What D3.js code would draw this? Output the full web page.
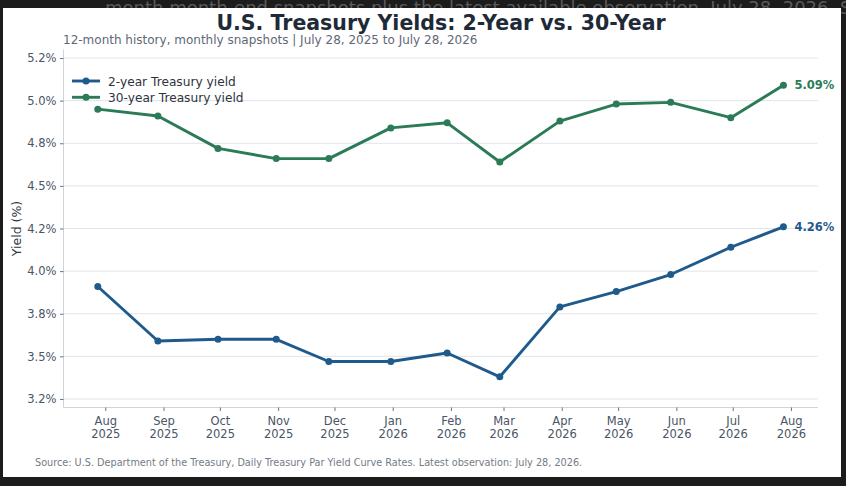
<!DOCTYPE html>
<html>
<head>
<meta charset="utf-8">
<script src="https://cdn.jsdelivr.net/npm/d3@7"></script>
<style>
  html, body { margin: 0; padding: 0; background: #1c1c1c; }
  svg { display: block; }
  text { font-family: "DejaVu Sans", sans-serif; }
</style>
</head>
<body>
<svg id="chart" width="846" height="486"></svg>
<script>
// ---- Data ----
const dates = ["2025-07-28","2025-08-29","2025-09-30","2025-10-31","2025-11-28","2025-12-31",
               "2026-01-30","2026-02-27","2026-03-31","2026-04-30","2026-05-29","2026-06-30","2026-07-28"];
const twoYear = [3.91, 3.59, 3.60, 3.60, 3.47, 3.47, 3.52, 3.38, 3.79, 3.88, 3.98, 4.14, 4.26];
const thirtyYear = [4.95, 4.91, 4.72, 4.66, 4.66, 4.84, 4.87, 4.64, 4.88, 4.98, 4.99, 4.90, 5.09];
const seriesNames = ["2-year Treasury yield", "30-year Treasury yield"];
const yTicks = [3.25, 3.5, 3.75, 4.0, 4.25, 4.5, 4.75, 5.0, 5.25];
const yTickLabels = ["3.2%", "3.5%", "3.8%", "4.0%", "4.2%", "4.5%", "4.8%", "5.0%", "5.2%"];
const yDomain = [3.2, 5.3];
const xTickDates = ["2025-08-01","2025-09-01","2025-10-01","2025-11-01","2025-12-01","2026-01-01",
                    "2026-02-01","2026-03-01","2026-04-01","2026-05-01","2026-06-01","2026-07-01","2026-08-01"];
const xTickLabels = [["Aug","2025"],["Sep","2025"],["Oct","2025"],["Nov","2025"],["Dec","2025"],["Jan","2026"],
                     ["Feb","2026"],["Mar","2026"],["Apr","2026"],["May","2026"],["Jun","2026"],["Jul","2026"],["Aug","2026"]];
const title = "U.S. Treasury Yields: 2-Year vs. 30-Year";
const subtitle = "12-month history, monthly snapshots | July 28, 2025 to July 28, 2026";
const source = "Source: U.S. Department of the Treasury, Daily Treasury Par Yield Curve Rates. Latest observation: July 28, 2026.";
const overflowText = "month month-end snapshots plus the latest available observation, July 28, 2026. So";

// ---- Styles ----
const colors = ["#1f5a8c", "#2b7b57"];
const parse = d3.utcParse("%Y-%m-%d");
const xs = dates.map(parse);

const svg = d3.select("#chart");

// dark backdrop text (cut-off text above the card, as in the reference)
svg.append("text").attr("x", 105).attr("y", 14)
  .attr("font-size", 18).attr("fill", "#5a5a5a")
  .text(overflowText);

// white card
svg.append("rect").attr("x", 3).attr("y", 8).attr("width", 838).attr("height", 469).attr("fill", "#ffffff");

const plot = { left: 63.5, right: 817.7, top: 49.5, bottom: 407.5 };

// x scale with 5% margins like matplotlib
const t0 = +xs[0], t1 = +xs[xs.length - 1];
const pad = (t1 - t0) * 0.05;
const x = d3.scaleUtc().domain([new Date(t0 - pad), new Date(t1 + pad)]).range([plot.left, plot.right]);
const y = d3.scaleLinear().domain(yDomain).range([plot.bottom, plot.top]);

// gridlines
svg.append("g").selectAll("line").data(yTicks).join("line")
  .attr("x1", plot.left).attr("x2", plot.right)
  .attr("y1", d => y(d)).attr("y2", d => y(d))
  .attr("stroke", "#e1e4ea").attr("stroke-width", 1);

// y axis
const yAxis = d3.axisLeft(y).tickValues(yTicks).tickSize(3.5).tickPadding(3.5)
  .tickFormat((d, i) => yTickLabels[i]);
const gy = svg.append("g").attr("transform", `translate(${plot.left},0)`).call(yAxis);
gy.select(".domain").attr("stroke", "#cfd4db").attr("d", `M0,${plot.top}V${plot.bottom}`);
gy.selectAll(".tick line").attr("stroke", "#6b7280");
gy.selectAll(".tick text").attr("fill", "#4a5566").attr("font-size", 11.5)
  .attr("font-family", "DejaVu Sans, sans-serif");

// x axis
const xAxis = d3.axisBottom(x).tickValues(xTickDates.map(parse)).tickSize(3.5).tickPadding(4).tickFormat("");
const gx = svg.append("g").attr("transform", `translate(0,${plot.bottom})`).call(xAxis);
gx.select(".domain").attr("stroke", "#cfd4db").attr("d", `M${plot.left},0H${plot.right}`);
gx.selectAll(".tick line").attr("stroke", "#6b7280");
gx.selectAll(".tick").each(function(d, i) {
  const t = d3.select(this).append("text").attr("fill", "#4a5566").attr("font-size", 11.5)
    .attr("text-anchor", "middle").attr("font-family", "DejaVu Sans, sans-serif");
  t.append("tspan").attr("x", 0).attr("y", 17).text(xTickLabels[i][0]);
  t.append("tspan").attr("x", 0).attr("y", 30).text(xTickLabels[i][1]);
});

// y label
svg.append("text").attr("transform", `translate(21,${(plot.top + plot.bottom) / 2}) rotate(-90)`)
  .attr("text-anchor", "middle").attr("font-size", 12.5).attr("fill", "#2d3440").text("Yield (%)");

// lines
const series = [twoYear, thirtyYear];
const line = d3.line().x((d, i) => x(xs[i])).y(d => y(d));
series.forEach((vals, si) => {
  svg.append("path").datum(vals).attr("d", line)
    .attr("fill", "none").attr("stroke", colors[si]).attr("stroke-width", 2.9)
    .attr("stroke-linejoin", "round").attr("stroke-linecap", "round");
  svg.append("g").selectAll("circle").data(vals).join("circle")
    .attr("cx", (d, i) => x(xs[i])).attr("cy", d => y(d)).attr("r", 3.5)
    .attr("fill", colors[si]);
  const last = vals.length - 1;
  svg.append("text").attr("x", x(xs[last]) + 11).attr("y", y(vals[last]) + 4)
    .attr("font-size", 11.5).attr("font-weight", "bold").attr("fill", colors[si])
    .text(vals[last].toFixed(2) + "%");
});

// legend
const leg = svg.append("g").attr("transform", "translate(72,81)");
seriesNames.forEach((name, i) => {
  const g = leg.append("g").attr("transform", `translate(0,${i * 16.3})`);
  g.append("line").attr("x1", 0).attr("x2", 28).attr("y1", 0).attr("y2", 0)
    .attr("stroke", colors[i]).attr("stroke-width", 2.9);
  g.append("circle").attr("cx", 14).attr("cy", 0).attr("r", 3.5).attr("fill", colors[i]);
  g.append("text").attr("x", 36).attr("y", 4.5).attr("font-size", 12.2).attr("fill", "#2d3440").text(name);
});

// titles
svg.append("text").attr("x", 441).attr("y", 29.5).attr("text-anchor", "middle")
  .attr("font-size", 20.5).attr("font-weight", "bold").attr("fill", "#1f2a38").text(title);
svg.append("text").attr("x", 63).attr("y", 44).attr("font-size", 12).attr("fill", "#5f6877").text(subtitle);
svg.append("text").attr("x", 35).attr("y", 466).attr("font-size", 9.7).attr("fill", "#737b87").text(source);
</script>
</body>
</html>
